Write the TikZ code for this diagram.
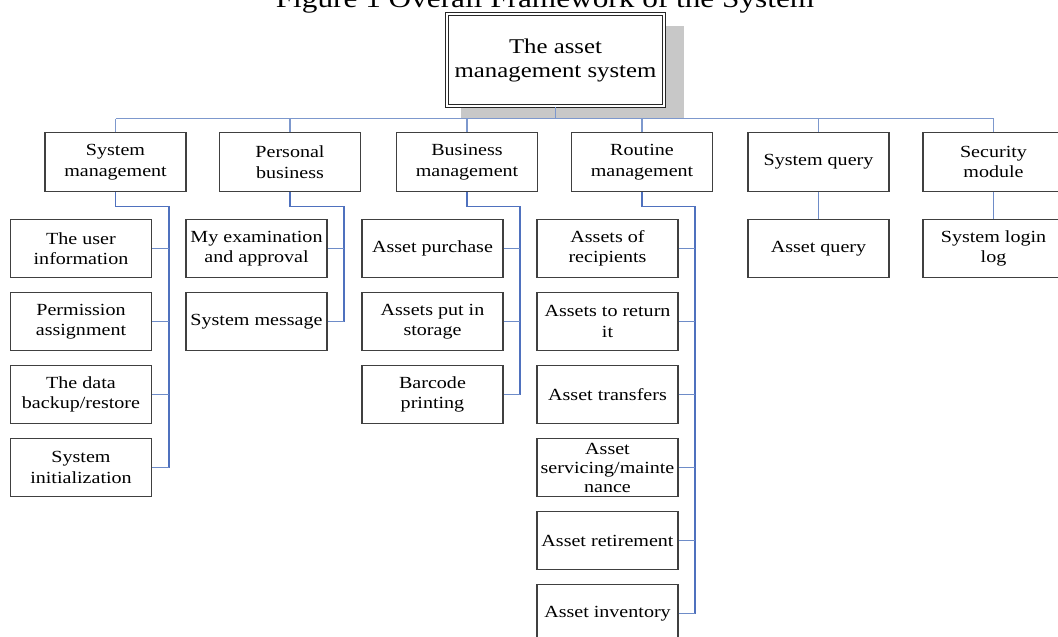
\documentclass[tikz,border=0pt]{standalone}
\usepackage{fontspec}
\newfontfamily\boxfont[FakeStretch=1.18]{Liberation Serif}
\usetikzlibrary{backgrounds}
\definecolor{boxgray}{RGB}{64,64,64}
\definecolor{trunkblue}{RGB}{79,113,190}
\definecolor{stubblue}{RGB}{110,140,200}
\definecolor{buslight}{RGB}{125,152,205}
\definecolor{shadowgray}{RGB}{200,200,200}

\begin{document}
\begin{tikzpicture}[x=1pt,y=-1pt,every node/.style={align=center},
    modbox/.style={draw=boxgray, line width=1.3pt, fill=white, minimum width=141pt, minimum height=58.5pt, inner sep=0pt, font=\boxfont\fontsize{17}{20.5}\selectfont},
    rootbox/.style={draw=black!85, line width=1.1pt, double=white, double distance=2.4pt, fill=white, minimum width=217pt, minimum height=92pt, inner sep=0pt, font=\boxfont\fontsize{21}{24}\selectfont},
    bus/.style={draw=buslight, line width=1.3pt},
    trunk/.style={draw=trunkblue, line width=1.8pt},
    stub/.style={draw=stubblue, line width=1.2pt}]
    \useasboundingbox (0,0) rectangle (1058,637);

    % Caption (cut by the top edge)
    \node[font=\boxfont\fontsize{26.5}{30}\selectfont, anchor=base] (title) at (545,7.5) {Figure 1 Overall Framework of the System};

    % Root with its shadow
    \node[rootbox] (root) at (555.5,60) {The asset\\management system};
    \begin{scope}[on background layer]
        \fill[shadowgray] ([shift={(15,13)}]root.north west) rectangle ([shift={(19,12)}]root.south east);
    \end{scope}

    % Modules
    \node[modbox] (sysm) at (115.5,162) {System\\management};
    \node[modbox] (pers) at (290,162) {Personal\\business};
    \node[modbox] (busm) at (467,162) {Business\\management};
    \node[modbox] (rout) at (642,162) {Routine\\management};
    \node[modbox] (sysq) at (818.5,162) {System query};
    \node[modbox] (secu) at (993.5,162) {Security\\module};

    % System management functions
    \node[modbox] (sysm1) at (81,248.5) {The user\\information};
    \node[modbox] (sysm2) at (81,321.5) {Permission\\assignment};
    \node[modbox] (sysm3) at (81,394.5) {The data\\backup/restore};
    \node[modbox] (sysm4) at (81,467.5) {System\\initialization};

    % Personal business functions
    \node[modbox] (pers1) at (256.5,248.5) {My examination\\and approval};
    \node[modbox] (pers2) at (256.5,321.5) {System message};

    % Business management functions
    \node[modbox] (busm1) at (432.5,248.5) {Asset purchase};
    \node[modbox] (busm2) at (432.5,321.5) {Assets put in\\storage};
    \node[modbox] (busm3) at (432.5,394.5) {Barcode\\printing};

    % Routine management functions
    \node[modbox] (rout1) at (607.5,248.5) {Assets of\\recipients};
    \node[modbox] (rout2) at (607.5,321.5) {Assets to return\\it};
    \node[modbox] (rout3) at (607.5,394.5) {Asset transfers};
    \node[modbox, font=\boxfont\fontsize{17}{19}\selectfont] (rout4) at (607.5,467.5) {Asset\\servicing/mainte\\nance};
    \node[modbox] (rout5) at (607.5,540.5) {Asset retirement};
    \node[modbox] (rout6) at (607.5,613.5) {Asset inventory};

    % Query and security functions
    \node[modbox] (sysq1) at (818.5,248.5) {Asset query};
    \node[modbox] (secu1) at (993.5,248.5) {System login\\log};

    % Bus under the root
    \coordinate (busl) at (115.5,118.5);
    \coordinate (busr) at (993.5,118.5);
    \draw[bus] (busl) -- (busr);
    \draw[bus] (root.south) -- (root.south |- busl);
    \draw[bus] (sysm.north) -- (sysm.north |- busl);
    \draw[bus] (pers.north) -- (pers.north |- busl);
    \draw[bus] (busm.north) -- (busm.north |- busl);
    \draw[bus] (rout.north) -- (rout.north |- busl);
    \draw[bus] (sysq.north) -- (sysq.north |- busl);
    \draw[bus] (secu.north) -- (secu.north |- busl);

    % Trunks down the right side of each column
    \draw[trunk] (sysm.south) -- ++(0,14.5) -| ([xshift=16.5pt]sysm4.east);
    \draw[trunk] (pers.south) -- ++(0,14.5) -| ([xshift=16.5pt]pers2.east);
    \draw[trunk] (busm.south) -- ++(0,14.5) -| ([xshift=16.5pt]busm3.east);
    \draw[trunk] (rout.south) -- ++(0,14.5) -| ([xshift=16.5pt]rout6.east);

    % Stubs into the functions
    \draw[stub] (sysm1.east) -- ++(16.5,0);
    \draw[stub] (sysm2.east) -- ++(16.5,0);
    \draw[stub] (sysm3.east) -- ++(16.5,0);
    \draw[stub] (sysm4.east) -- ++(16.5,0);
    \draw[stub] (pers1.east) -- ++(16.5,0);
    \draw[stub] (pers2.east) -- ++(16.5,0);
    \draw[stub] (busm1.east) -- ++(16.5,0);
    \draw[stub] (busm2.east) -- ++(16.5,0);
    \draw[stub] (busm3.east) -- ++(16.5,0);
    \draw[stub] (rout1.east) -- ++(16.5,0);
    \draw[stub] (rout2.east) -- ++(16.5,0);
    \draw[stub] (rout3.east) -- ++(16.5,0);
    \draw[stub] (rout4.east) -- ++(16.5,0);
    \draw[stub] (rout5.east) -- ++(16.5,0);
    \draw[stub] (rout6.east) -- ++(16.5,0);
    \draw[stub] (sysq.south) -- (sysq1.north);
    \draw[stub] (secu.south) -- (secu1.north);
\end{tikzpicture}
\end{document}
